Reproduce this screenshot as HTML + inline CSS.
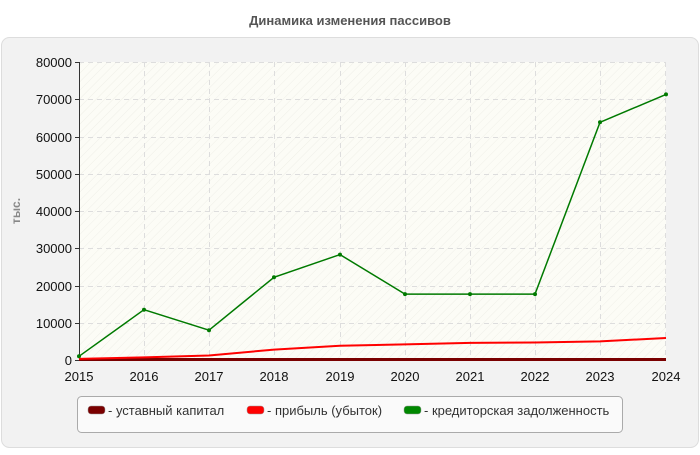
<!DOCTYPE html>
<html><head><meta charset="utf-8"><style>
body{margin:0;width:700px;height:450px;background:#fff;font-family:"Liberation Sans",sans-serif;overflow:hidden}
</style></head><body>
<svg width="700" height="450" xmlns="http://www.w3.org/2000/svg" font-family="Liberation Sans, sans-serif">
<defs>
<pattern id="h" width="6" height="6" patternUnits="userSpaceOnUse" patternTransform="rotate(45)">
<rect width="6" height="6" fill="#fcfcf6"/><line x1="0" y1="0" x2="0" y2="6" stroke="#efefe8" stroke-width="1"/>
</pattern>
</defs>
<text x="350" y="25" text-anchor="middle" font-size="13" font-weight="bold" fill="#555">Динамика изменения пассивов</text>
<rect x="1.5" y="37.5" width="697" height="410" rx="8" fill="#f2f2f2" stroke="#ddd"/>
<rect x="79" y="62" width="587" height="298" fill="url(#h)"/>
<g stroke="#ddd" stroke-dasharray="5,4" stroke-width="1">
<line x1="79" y1="62.5" x2="666" y2="62.5"/><line x1="79" y1="99.5" x2="666" y2="99.5"/><line x1="79" y1="137.5" x2="666" y2="137.5"/><line x1="79" y1="174.5" x2="666" y2="174.5"/><line x1="79" y1="211.5" x2="666" y2="211.5"/><line x1="79" y1="248.5" x2="666" y2="248.5"/><line x1="79" y1="286.5" x2="666" y2="286.5"/><line x1="79" y1="323.5" x2="666" y2="323.5"/>
<line x1="144.5" y1="62" x2="144.5" y2="360"/><line x1="209.5" y1="62" x2="209.5" y2="360"/><line x1="274.5" y1="62" x2="274.5" y2="360"/><line x1="340.5" y1="62" x2="340.5" y2="360"/><line x1="405.5" y1="62" x2="405.5" y2="360"/><line x1="470.5" y1="62" x2="470.5" y2="360"/><line x1="535.5" y1="62" x2="535.5" y2="360"/><line x1="600.5" y1="62" x2="600.5" y2="360"/><line x1="665.5" y1="62" x2="665.5" y2="360"/>
</g>
<g stroke="#333"><line x1="79.5" y1="62" x2="79.5" y2="361"/><line x1="79" y1="360.5" x2="666" y2="360.5"/>
<line x1="75" y1="62.5" x2="79" y2="62.5"/><line x1="75" y1="99.5" x2="79" y2="99.5"/><line x1="75" y1="137.5" x2="79" y2="137.5"/><line x1="75" y1="174.5" x2="79" y2="174.5"/><line x1="75" y1="211.5" x2="79" y2="211.5"/><line x1="75" y1="248.5" x2="79" y2="248.5"/><line x1="75" y1="286.5" x2="79" y2="286.5"/><line x1="75" y1="323.5" x2="79" y2="323.5"/><line x1="75" y1="360.5" x2="79" y2="360.5"/></g>
<g font-size="13" fill="#111" text-anchor="end">
<text x="72" y="67">80000</text><text x="72" y="104">70000</text><text x="72" y="142">60000</text><text x="72" y="179">50000</text><text x="72" y="216">40000</text><text x="72" y="253">30000</text><text x="72" y="291">20000</text><text x="72" y="328">10000</text><text x="72" y="365">0</text></g>
<g font-size="13" fill="#111" text-anchor="middle">
<text x="79" y="381">2015</text><text x="144" y="381">2016</text><text x="209" y="381">2017</text><text x="274" y="381">2018</text><text x="340" y="381">2019</text><text x="405" y="381">2020</text><text x="470" y="381">2021</text><text x="535" y="381">2022</text><text x="600" y="381">2023</text><text x="666" y="381">2024</text></g>
<text transform="translate(20,211) rotate(-90)" text-anchor="middle" font-size="12" font-weight="bold" fill="#888">тыс.</text>
<polyline fill="none" stroke="#7a0000" stroke-width="3" points="79,359.5 144,359.5 209,359.5 274,359.5 340,359.5 405,359.5 470,359.5 535,359.5 600,359.5 666,359.5"/>
<polyline fill="none" stroke="#f00" stroke-width="2" points="79,358.9 144,357.4 209,355.5 274,349.6 340,345.8 405,344.4 470,342.9 535,342.5 600,341.4 666,338"/>
<polyline fill="none" stroke="#007a00" stroke-width="1.5" points="79,356.3 144,309.7 209,330.2 274,277.3 340,254.6 405,294.1 470,294.1 535,294.1 600,122.3 666,94.4"/>
<g fill="#007a00"><circle cx="79" cy="356.3" r="2"/><circle cx="144" cy="309.7" r="2"/><circle cx="209" cy="330.2" r="2"/><circle cx="274" cy="277.3" r="2"/><circle cx="340" cy="254.6" r="2"/><circle cx="405" cy="294.1" r="2"/><circle cx="470" cy="294.1" r="2"/><circle cx="535" cy="294.1" r="2"/><circle cx="600" cy="122.3" r="2"/><circle cx="666" cy="94.4" r="2"/></g>
<rect x="77.5" y="396.5" width="545" height="36" rx="4" fill="#fafafa" stroke="#aaa"/>
<rect x="88" y="406" width="17" height="8" rx="3" fill="#7a0000" stroke="#999" stroke-width="0.5"/>
<text x="108" y="415" font-size="13" fill="#333">- уставный капитал</text>
<rect x="247" y="406" width="17" height="8" rx="3" fill="#f00" stroke="#999" stroke-width="0.5"/>
<text x="267" y="415" font-size="13" fill="#333">- прибыль (убыток)</text>
<rect x="404" y="406" width="17" height="8" rx="3" fill="#080" stroke="#999" stroke-width="0.5"/>
<text x="424" y="415" font-size="13" fill="#333">- кредиторская задолженность</text>
</svg>
</body></html>
